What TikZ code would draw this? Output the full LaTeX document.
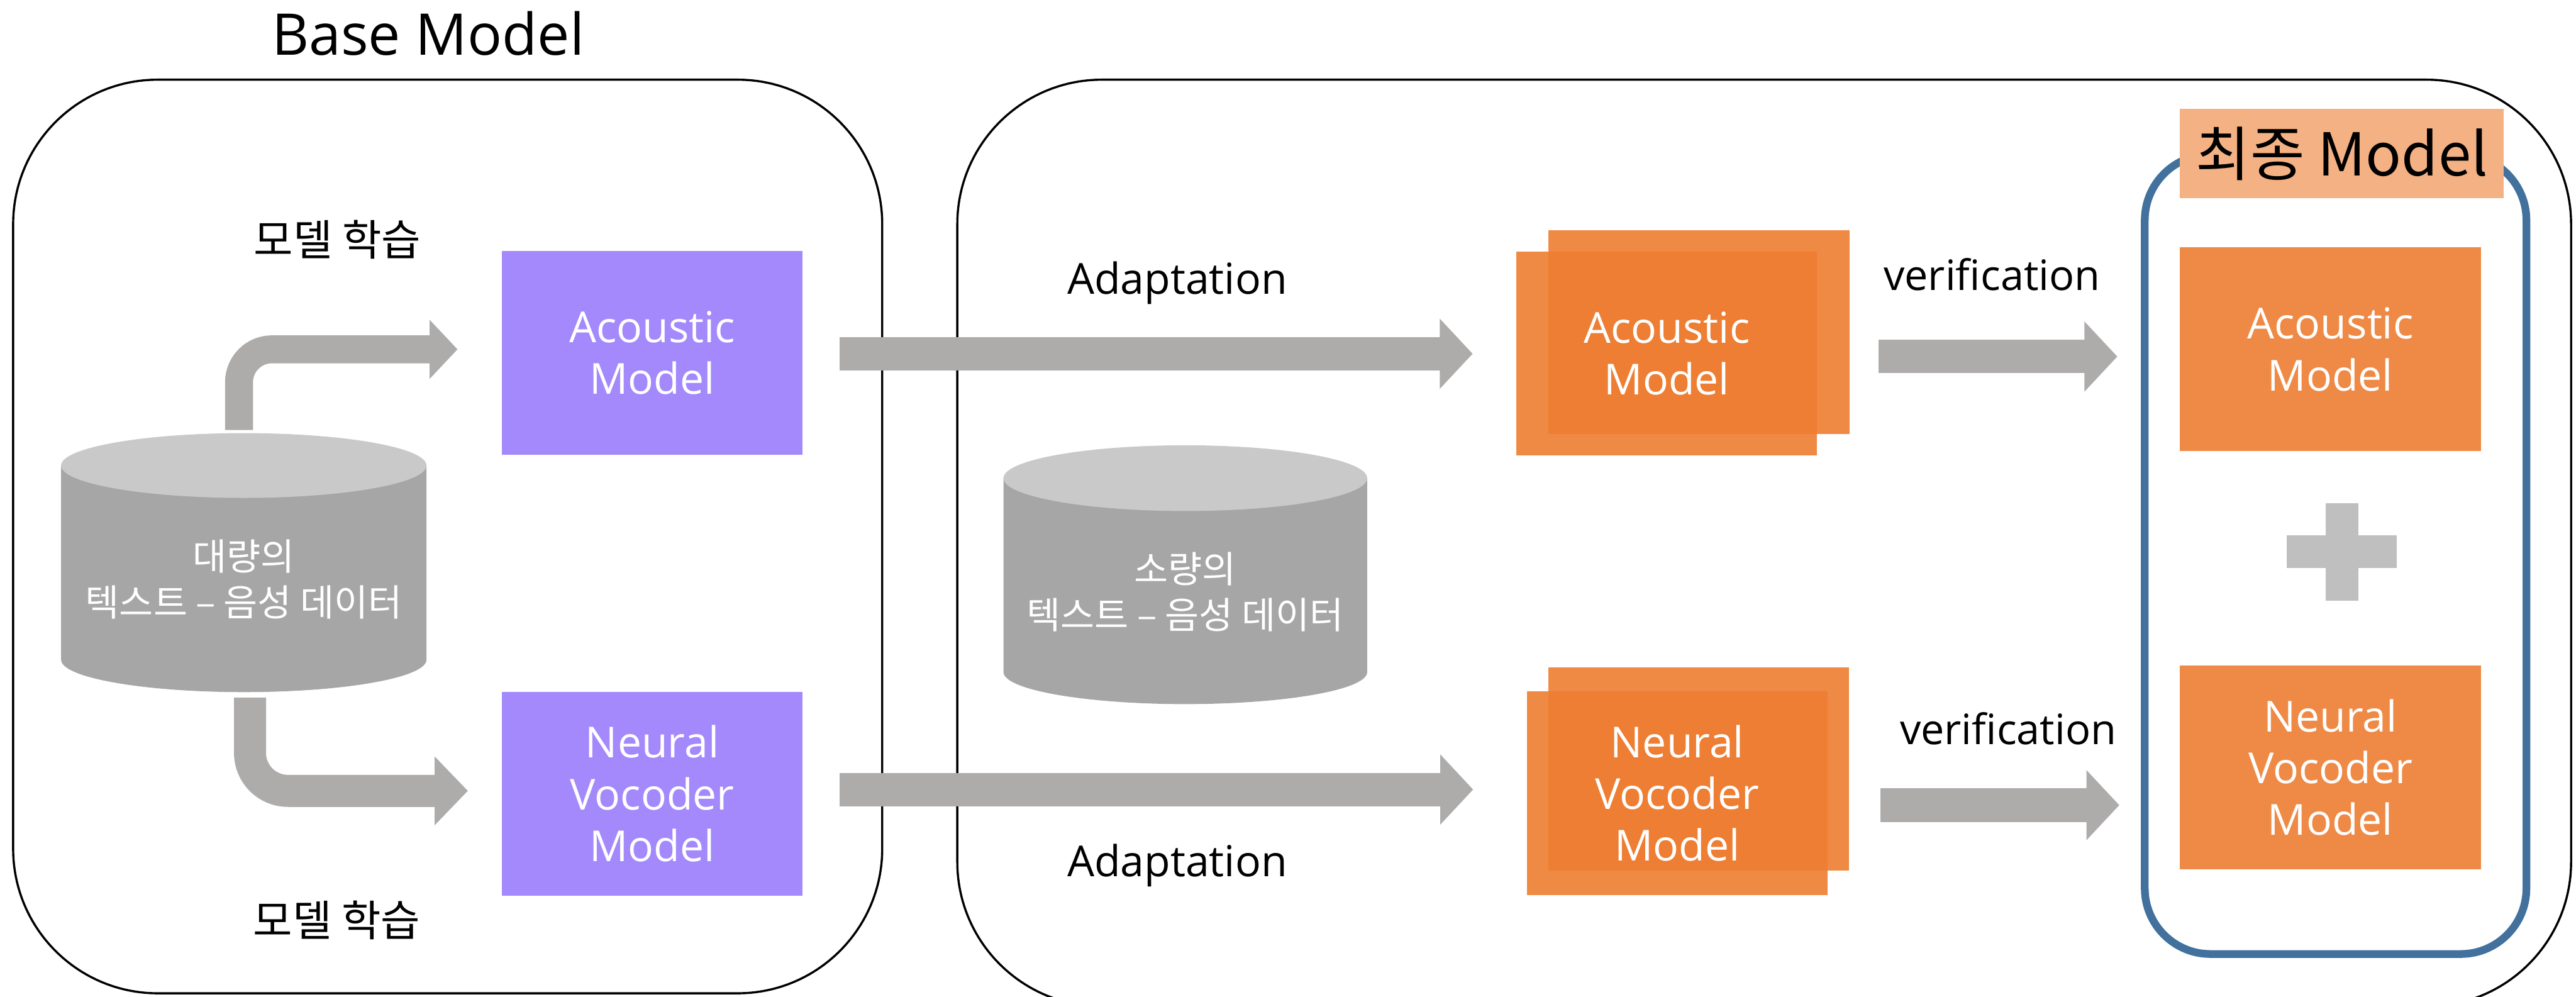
\documentclass[tikz,border=0pt]{standalone}
\usepackage{fontspec}
\setmainfont{Open Sans}
\newfontfamily\krfont{Noto Sans CJK KR}
\usetikzlibrary{arrows.meta}

\definecolor{arrowgray}{HTML}{AEABAB}
\definecolor{cyltop}{HTML}{C9C9C9}
\definecolor{cylbody}{HTML}{A6A6A6}
\definecolor{basepurple}{HTML}{A389FB}
\definecolor{adaptorange}{HTML}{ED7D31}
\definecolor{finalorange}{HTML}{EE8A46}
\definecolor{labelorange}{HTML}{F4B183}
\definecolor{finalblue}{HTML}{41719C}
\definecolor{plusgray}{HTML}{BFBFBF}

\begin{document}
\begin{tikzpicture}[x=1pt,y=-1pt,
  frame/.style={draw=black, line width=1.3pt, rounded corners=88pt, inner sep=0pt, outer sep=0pt},
  modelbox/.style={inner sep=0pt, outer sep=0pt, minimum width=183pt, minimum height=124pt,
    text=white, align=center, font=\fontsize{26}{31.5}\selectfont},
  basebox/.style={modelbox, fill=basepurple},
  adaptbox/.style={modelbox, fill=adaptorange, fill opacity=0.9, text opacity=1},
  finalbox/.style={modelbox, fill=finalorange},
  caption/.style={font=\fontsize{26}{30}\selectfont, anchor=base, inner sep=0pt},
  krcaption/.style={font=\krfont\fontsize{26}{30}\selectfont, anchor=base, inner sep=0pt},
  dbtext/.style={font=\krfont\fontsize{22.5}{28}\selectfont, text=white, align=center, inner sep=0pt},
  thinbent/.style={draw=arrowgray, line width=17pt, rounded corners=20pt,
    -{Triangle[length=17pt,width=35pt]}},
  thickbent/.style={draw=arrowgray, line width=19.5pt, rounded corners=23pt,
    -{Triangle[length=20.2pt,width=40.6pt]}},
  fatarrow/.style={draw=arrowgray, line width=20.3pt,
    -{Triangle[length=20pt,width=41.5pt]}},
]
\useasboundingbox (0,0) rectangle (1568,606.5);

% outer frames
\node[frame, minimum width=529pt, minimum height=556pt] (baseframe) at (272.5,326.5) {};
\node[frame, minimum width=982.3pt, minimum height=564pt] (adaptframe) at (1073.85,330.5) {};
\node[caption, font=\fontsize{35}{40}\selectfont] (basetitle) at (260.6,33.6) {Base Model};

% large corpus cylinder
\fill[cylbody] (37.2,283.3) -- (37.2,401.5)
  arc[start angle=180, end angle=0, x radius=111.2, y radius=19.7] -- (259.6,283.3) -- cycle;
\fill[cyltop] (148.4,283.3) ellipse[x radius=111.2, y radius=19.7];
\node[dbtext] (bigdb) at (148.4,352.6) {대량의\\텍스트 – 음성 데이터};
\coordinate (bigdbtop) at (145.5,261.7);
\coordinate (bigdbbot) at (152.2,424.6);

% small corpus cylinder
\fill[cylbody] (610.8,291) -- (610.8,409)
  arc[start angle=180, end angle=0, x radius=110.7, y radius=19.5] -- (832.2,291) -- cycle;
\fill[cyltop] (721.5,291) ellipse[x radius=110.7, y radius=20];
\node[dbtext] (smalldb) at (721.4,360.1) {소량의\\텍스트 – 음성 데이터};

% base models
\node[basebox] (pam) at (397,214.75) {Acoustic\\Model};
\node[basebox] (pvm) at (397,483) {Neural\\Vocoder\\Model};

% adapted models (stacked copies)
\node[adaptbox] (aamback) at (1034.15,202) {};
\node[adaptbox] (aam) at (1014.6,215.05) {Acoustic\\Model};
\node[adaptbox] (avmback) at (1033.85,468) {};
\node[adaptbox] (avm) at (1020.9,482.8) {Neural\\Vocoder\\Model};

% final model group
\node[draw=finalblue, line width=4.7pt, rounded corners=40pt, minimum width=232.3pt,
  minimum height=486.6pt, inner sep=0pt, outer sep=0pt] (finalframe) at (1421.65,337.3) {};
\node[fill=labelorange, minimum width=197pt, minimum height=54.2pt, inner sep=0pt,
  font=\krfont\fontsize{36}{40}\selectfont] (finaltitle) at (1425.5,93.5) {최종 Model};
\node[finalbox] (fam) at (1418.5,212.6) {Acoustic\\Model};
\node[finalbox] (fvm) at (1418.5,467) {Neural\\Vocoder\\Model};
\fill[plusgray] (1392,325.8) rectangle (1459,345.8);
\fill[plusgray] (1415.6,306.4) rectangle (1435.6,365.5);

% labels
\node[krcaption] (traintop) at (205.4,155.5) {모델 학습};
\node[krcaption] (trainbot) at (205,570) {모델 학습};
\node[caption] (adapttop) at (716.6,179) {Adaptation};
\node[caption] (adaptbot) at (716.6,533.6) {Adaptation};
\node[caption, font=\fontsize{25.5}{30}\selectfont] (veriftop) at (1212.5,176.6) {verification};
\node[caption, font=\fontsize{25.5}{30}\selectfont] (verifbot) at (1222.4,452.9) {verification};

% training arrows
\draw[thinbent] (bigdbtop) |- ([xshift=-27pt,yshift=2.15pt]pam.west);
\draw[thickbent] (bigdbbot) |- ([xshift=-20.7pt,yshift=1.7pt]pvm.west);

% adaptation arrows
\draw[fatarrow] ([xshift=22.5pt,yshift=-0.55pt]pam.east) -- ([xshift=-26.7pt,yshift=-0.25pt]aam.west);
\draw[fatarrow] ([xshift=22.5pt,yshift=2.5pt]pvm.east) -- ([xshift=-32.7pt,yshift=2.3pt]avm.west);

% verification arrows
\draw[fatarrow] ([xshift=17.8pt,yshift=-15pt]aamback.east) -- ([xshift=-38.2pt,yshift=-4.4pt]fam.west);
\draw[fatarrow] ([xshift=19.3pt,yshift=-22pt]avmback.east) -- ([xshift=-37pt,yshift=-23pt]fvm.west);
\end{tikzpicture}
\end{document}
